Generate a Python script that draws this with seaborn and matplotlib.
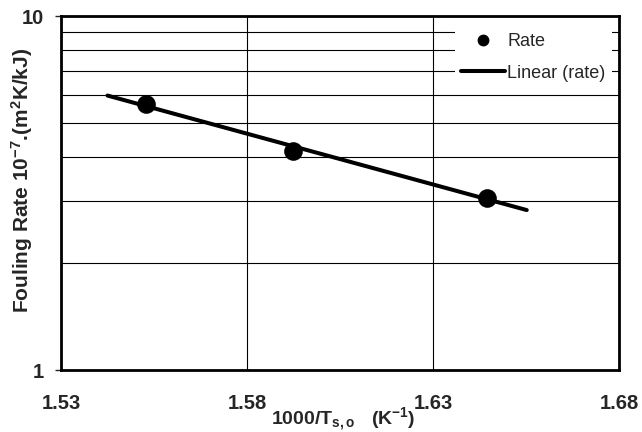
import matplotlib
matplotlib.use("Agg")
import matplotlib.pyplot as plt
from matplotlib.lines import Line2D
from matplotlib.ticker import FixedLocator, NullFormatter, FixedFormatter
import numpy as np
import pandas as pd
import seaborn as sns

# Measured fouling rates vs. inverse surface temperature
inv_temp = [1.5529, 1.5923, 1.6446]          # 1000/T_s,o  (1/K)
fouling_rate = [5.64, 4.16, 3.07]            # 10^-7 m2K/kJ

# Linear trendline on the log scale (end points)
trend_x = [1.5425, 1.6552]
trend_y = [5.96, 2.83]

x_ticks = [1.53, 1.58, 1.63, 1.68]
x_tick_labels = ["1.53", "1.58", "1.63", "1.68"]
y_major = [1, 10]
y_major_labels = ["1", "10"]
y_minor = [2, 3, 4, 5, 6, 7, 8, 9]

sns.set_style("white")
plt.rcParams["font.family"] = ["Liberation Sans", "DejaVu Sans"]
plt.rcParams["mathtext.fontset"] = "custom"
plt.rcParams["mathtext.bf"] = "Liberation Sans:bold"
plt.rcParams["mathtext.rm"] = "Liberation Sans:bold"
plt.rcParams["mathtext.default"] = "bf"

fig = plt.figure(figsize=(6.42, 4.32), dpi=100)
ax = fig.add_axes([61 / 642, 62 / 432, 558 / 642, 354 / 432])

pts = pd.DataFrame({"x": inv_temp, "y": fouling_rate})
trend = pd.DataFrame({"x": trend_x, "y": trend_y})

sns.lineplot(data=trend, x="x", y="y", color="black", linewidth=2.9, ax=ax,
             zorder=3, legend=False)
sns.scatterplot(data=pts, x="x", y="y", color="black", s=180, ax=ax,
                zorder=4, legend=False, edgecolor="black", linewidth=0)

ax.set_yscale("log")
ax.set_xlim(1.53, 1.68)
ax.set_ylim(1, 10)

ax.xaxis.set_major_locator(FixedLocator(x_ticks))
ax.xaxis.set_major_formatter(FixedFormatter(x_tick_labels))
ax.yaxis.set_major_locator(FixedLocator(y_major))
ax.yaxis.set_major_formatter(FixedFormatter(y_major_labels))
ax.yaxis.set_minor_locator(FixedLocator(y_minor))
ax.yaxis.set_minor_formatter(NullFormatter())

ax.grid(True, which="major", axis="x", color="black", linewidth=0.8)
ax.grid(True, which="both", axis="y", color="black", linewidth=0.8)
ax.set_axisbelow(True)

for s in ax.spines.values():
    s.set_visible(True)
    s.set_color("black")
    s.set_linewidth(2.0)

ax.tick_params(axis="x", which="both", length=0, pad=17, labelsize=14.5)
ax.tick_params(axis="y", which="major", direction="out", length=4.5, width=1.0,
               pad=8, labelsize=14.5, left=True)
ax.tick_params(axis="y", which="minor", length=0)
for lab in ax.get_xticklabels() + ax.get_yticklabels():
    lab.set_fontweight("bold")

ax.set_xlabel("")
ax.set_ylabel("")

fig.text(343 / 642, 7 / 432, r"1000/T$_{s,o}$   (K$^{-1}$)", ha="center",
         va="baseline", fontsize=14, fontweight="bold")
fig.text(22 / 642, 1 - 180 / 432, r"Fouling Rate 10$^{-7}$.(m$^{2}$K/kJ)",
         rotation=90, ha="center", va="center", fontsize=15, fontweight="bold")

handles = [
    Line2D([], [], marker="o", color="black", linestyle="none", markersize=7.5),
    Line2D([], [], color="black", linewidth=2.9),
]
leg = ax.legend(handles, ["Rate", "Linear (rate)"], loc="upper left",
                bbox_to_anchor=(455 / 642, 1 - 27 / 432),
                bbox_transform=fig.transFigure, fontsize=13, frameon=True,
                fancybox=False, edgecolor="none", facecolor="white",
                framealpha=1, borderpad=0.35, borderaxespad=0,
                handlelength=2.4, handletextpad=0.15, labelspacing=0.8)
leg.set_zorder(5)

fig.savefig("out.png", dpi=100)
